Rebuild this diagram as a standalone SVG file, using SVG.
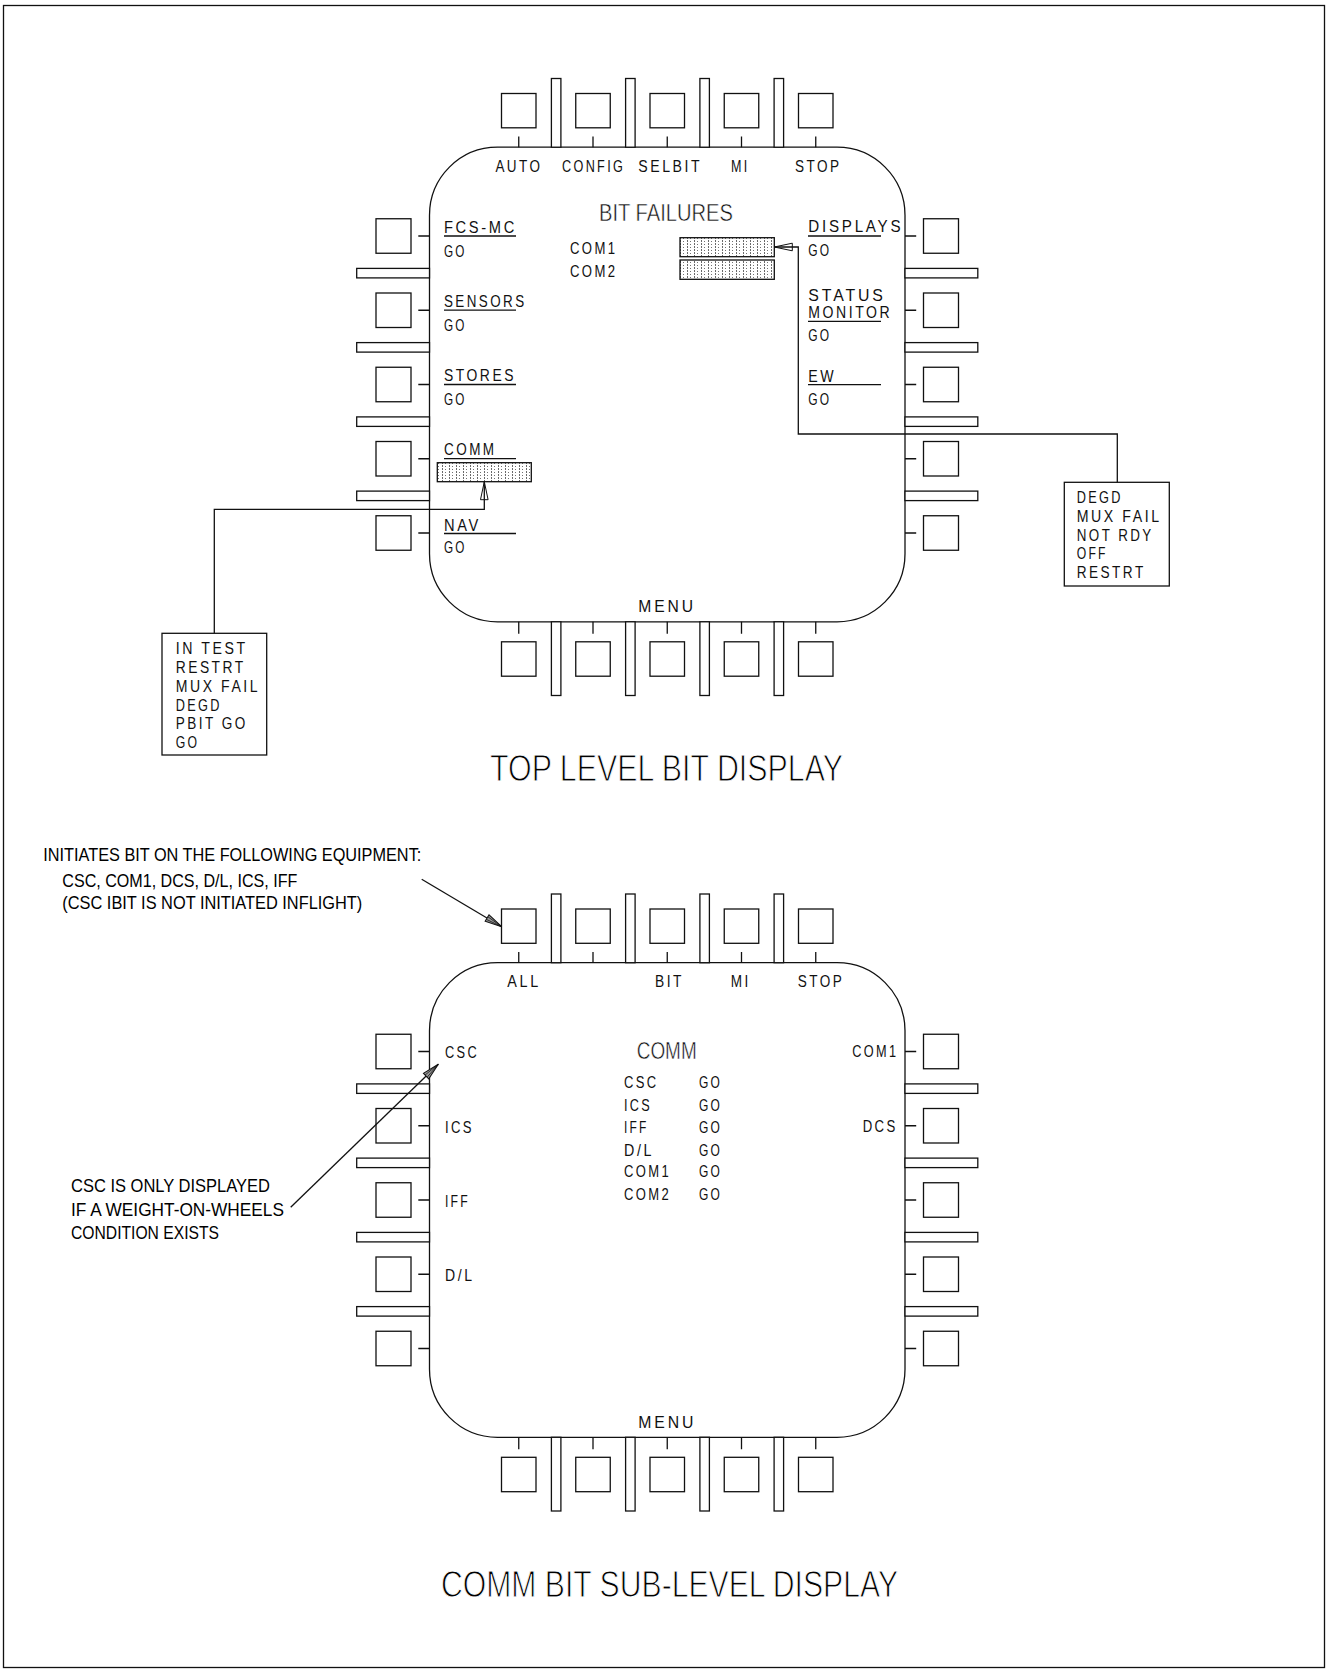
<svg xmlns="http://www.w3.org/2000/svg" xmlns:xlink="http://www.w3.org/1999/xlink" width="1329" height="1672" viewBox="0 0 1329 1672">
<style>
.s{fill:none;stroke:#111;stroke-width:1.3}
.w{fill:#fff;stroke:#111;stroke-width:1.3}
.lb{font-family:"Liberation Sans",Arial,sans-serif;font-size:16.5px;letter-spacing:3px;fill:#111}
.an{font-family:"Liberation Sans",Arial,sans-serif;font-size:18px;fill:#000}
.t1{font-family:"Liberation Sans",Arial,sans-serif;font-size:24px;fill:#111;stroke:#fff;stroke-width:0.5}
.t2{font-family:"Liberation Sans",Arial,sans-serif;font-size:36px;fill:#000;stroke:#fff;stroke-width:1}
.sh{fill:url(#dots);stroke:#111;stroke-width:1.3}
</style>
<defs>
<pattern id="dots" patternUnits="userSpaceOnUse" width="7" height="6">
<rect width="7" height="6" fill="#fff"/>
<path d="M1.5 0v2M1.5 3v2" stroke="#444" stroke-width="0.8"/>
<circle cx="4.5" cy="1.5" r="0.5" fill="#444"/>
<circle cx="4.5" cy="4.5" r="0.5" fill="#444"/>
</pattern>
<marker id="ah" markerUnits="userSpaceOnUse" markerWidth="22" markerHeight="12" viewBox="-20 -6 22 12" refX="0" refY="0" orient="auto">
<path d="M0 0L-18 -3.8L-18 3.8Z" fill="none" stroke="#111" stroke-width="1"/>
</marker>
<marker id="ah2" markerUnits="userSpaceOnUse" markerWidth="22" markerHeight="12" viewBox="-20 -6 22 12" refX="0" refY="0" orient="auto">
<path d="M0 0L-17 -3.8L-17 3.8Z" fill="#999" stroke="#111" stroke-width="1"/>
<path d="M0 0L-17 -1.5M0 0L-17 1.5" stroke="#111" stroke-width="0.7"/>
</marker>
<g id="bezel">
<rect class="s" x="429.5" y="-237.3" width="475.5" height="474.6" rx="68" ry="68"/>
<g class="w">
<rect x="501.5" y="-291" width="34.5" height="34.3"/>
<rect x="575.75" y="-291" width="34.5" height="34.3"/>
<rect x="650" y="-291" width="34.5" height="34.3"/>
<rect x="724.25" y="-291" width="34.5" height="34.3"/>
<rect x="798.5" y="-291" width="34.5" height="34.3"/>
<rect x="551.4" y="-306" width="9.5" height="68.7"/>
<rect x="625.6" y="-306" width="9.5" height="68.7"/>
<rect x="699.9" y="-306" width="9.5" height="68.7"/>
<rect x="774.1" y="-306" width="9.5" height="68.7"/>
<rect x="501.5" y="257.3" width="34.5" height="34.4"/>
<rect x="575.75" y="257.3" width="34.5" height="34.4"/>
<rect x="650" y="257.3" width="34.5" height="34.4"/>
<rect x="724.25" y="257.3" width="34.5" height="34.4"/>
<rect x="798.5" y="257.3" width="34.5" height="34.4"/>
<rect x="551.4" y="237.3" width="9.5" height="73.7"/>
<rect x="625.6" y="237.3" width="9.5" height="73.7"/>
<rect x="699.9" y="237.3" width="9.5" height="73.7"/>
<rect x="774.1" y="237.3" width="9.5" height="73.7"/>
<rect x="376" y="-165.75" width="35" height="34.5"/>
<rect x="376" y="-91.5" width="35" height="34.5"/>
<rect x="376" y="-17.25" width="35" height="34.5"/>
<rect x="376" y="57" width="35" height="34.5"/>
<rect x="376" y="131.25" width="35" height="34.5"/>
<rect x="356.7" y="-116.1" width="72.8" height="9.5"/>
<rect x="356.7" y="-41.9" width="72.8" height="9.5"/>
<rect x="356.7" y="32.4" width="72.8" height="9.5"/>
<rect x="356.7" y="106.6" width="72.8" height="9.5"/>
<rect x="923.5" y="-165.75" width="35" height="34.5"/>
<rect x="923.5" y="-91.5" width="35" height="34.5"/>
<rect x="923.5" y="-17.25" width="35" height="34.5"/>
<rect x="923.5" y="57" width="35" height="34.5"/>
<rect x="923.5" y="131.25" width="35" height="34.5"/>
<rect x="905" y="-116.1" width="72.8" height="9.5"/>
<rect x="905" y="-41.9" width="72.8" height="9.5"/>
<rect x="905" y="32.4" width="72.8" height="9.5"/>
<rect x="905" y="106.6" width="72.8" height="9.5"/>
</g>
<path class="s" d="M518.75 -248V-237.3M593 -248V-237.3M667.25 -248V-237.3M741.5 -248V-237.3M815.75 -248V-237.3M518.75 237.3V249.3M593 237.3V249.3M667.25 237.3V249.3M741.5 237.3V249.3M815.75 237.3V249.3M418.3 -148.5H429.5M418.3 -74.25H429.5M418.3 0H429.5M418.3 74.25H429.5M418.3 148.5H429.5M905 -148.5H916.2M905 -74.25H916.2M905 0H916.2M905 74.25H916.2M905 148.5H916.2"/>
</g>
</defs>

<rect id="frame" class="s" x="3.5" y="5.5" width="1321" height="1662"/>

<g id="top-display">
<use xlink:href="#bezel" href="#bezel" transform="translate(0 384.5)"/>
<g id="top-labels">
<text class="lb" x="495.4" y="172.3" textLength="47" lengthAdjust="spacingAndGlyphs">AUTO</text>
<text class="lb" x="562.1" y="172.3" textLength="63" lengthAdjust="spacingAndGlyphs">CONFIG</text>
<text class="lb" x="638.2" y="172.3" textLength="64" lengthAdjust="spacingAndGlyphs">SELBIT</text>
<text class="lb" x="731.1" y="172.3" textLength="18.5" lengthAdjust="spacingAndGlyphs">MI</text>
<text class="lb" x="795" y="172.3" textLength="46.5" lengthAdjust="spacingAndGlyphs">STOP</text>
<text class="t1" x="599" y="220.7" textLength="134" lengthAdjust="spacingAndGlyphs">BIT FAILURES</text>
<text class="lb" x="570" y="254" textLength="47.5" lengthAdjust="spacingAndGlyphs">COM1</text>
<text class="lb" x="570" y="276.7" textLength="47.5" lengthAdjust="spacingAndGlyphs">COM2</text>
<text class="lb" x="444" y="232.7" textLength="73" lengthAdjust="spacingAndGlyphs">FCS-MC</text>
<text class="lb" x="444" y="256.7" textLength="22.5" lengthAdjust="spacingAndGlyphs">GO</text>
<text class="lb" x="444" y="306.7" textLength="82.5" lengthAdjust="spacingAndGlyphs">SENSORS</text>
<text class="lb" x="444" y="330.7" textLength="22.5" lengthAdjust="spacingAndGlyphs">GO</text>
<text class="lb" x="444" y="381" textLength="72" lengthAdjust="spacingAndGlyphs">STORES</text>
<text class="lb" x="444" y="405" textLength="22.5" lengthAdjust="spacingAndGlyphs">GO</text>
<text class="lb" x="444" y="455" textLength="52.5" lengthAdjust="spacingAndGlyphs">COMM</text>
<text class="lb" x="444" y="530.5" textLength="37" lengthAdjust="spacingAndGlyphs">NAV</text>
<text class="lb" x="444" y="553.3" textLength="22.5" lengthAdjust="spacingAndGlyphs">GO</text>
<text class="lb" x="808.3" y="232.3" textLength="95" lengthAdjust="spacingAndGlyphs">DISPLAYS</text>
<text class="lb" x="808.3" y="256" textLength="23" lengthAdjust="spacingAndGlyphs">GO</text>
<text class="lb" x="808.3" y="301" textLength="77.5" lengthAdjust="spacingAndGlyphs">STATUS</text>
<text class="lb" x="808.3" y="317.7" textLength="84" lengthAdjust="spacingAndGlyphs">MONITOR</text>
<text class="lb" x="808.3" y="341" textLength="23" lengthAdjust="spacingAndGlyphs">GO</text>
<text class="lb" x="808.3" y="381.7" textLength="28" lengthAdjust="spacingAndGlyphs">EW</text>
<text class="lb" x="808.3" y="405" textLength="23" lengthAdjust="spacingAndGlyphs">GO</text>
<text class="lb" x="638.3" y="612.3" textLength="57.5" lengthAdjust="spacingAndGlyphs">MENU</text>
<path class="s" d="M444 236H516M444 310.2H516M444 384.5H516M444 458.7H516M444 533.5H516M808 236H881M808 321.3H881M808 384.7H881"/>
</g>
<g id="fail-bars">
<rect class="sh" x="437.3" y="462.7" width="94" height="19"/>
<rect class="sh" x="680" y="237.7" width="94.3" height="19"/>
<rect class="sh" x="680" y="260" width="94.3" height="19.3"/>
</g>
<g id="comm-status-box">
<rect class="s" x="162" y="633.3" width="104.7" height="121.7"/>
<text class="lb" x="175.7" y="654.3" textLength="72" lengthAdjust="spacingAndGlyphs">IN TEST</text>
<text class="lb" x="175.7" y="673.3" textLength="70" lengthAdjust="spacingAndGlyphs">RESTRT</text>
<text class="lb" x="175.7" y="692" textLength="84.5" lengthAdjust="spacingAndGlyphs">MUX FAIL</text>
<text class="lb" x="175.7" y="711" textLength="46" lengthAdjust="spacingAndGlyphs">DEGD</text>
<text class="lb" x="175.7" y="729.3" textLength="72" lengthAdjust="spacingAndGlyphs">PBIT GO</text>
<text class="lb" x="175.7" y="748.3" textLength="23.5" lengthAdjust="spacingAndGlyphs">GO</text>
</g>
<g id="com-status-box">
<rect class="s" x="1064.3" y="482.3" width="105" height="103.7"/>
<text class="lb" x="1076.7" y="503.3" textLength="46" lengthAdjust="spacingAndGlyphs">DEGD</text>
<text class="lb" x="1076.7" y="521.7" textLength="85" lengthAdjust="spacingAndGlyphs">MUX FAIL</text>
<text class="lb" x="1076.7" y="540.7" textLength="77" lengthAdjust="spacingAndGlyphs">NOT RDY</text>
<text class="lb" x="1076.7" y="559" textLength="31" lengthAdjust="spacingAndGlyphs">OFF</text>
<text class="lb" x="1076.7" y="578.3" textLength="69" lengthAdjust="spacingAndGlyphs">RESTRT</text>
</g>
<text id="title-top" class="t2" x="490" y="781" textLength="353" lengthAdjust="spacingAndGlyphs">TOP LEVEL BIT DISPLAY</text>
</g>

<g id="comm-display">
<use xlink:href="#bezel" href="#bezel" transform="translate(0 1200)"/>
<g id="comm-labels">
<text class="lb" x="507.3" y="987.3" textLength="33.5" lengthAdjust="spacingAndGlyphs">ALL</text>
<text class="lb" x="655" y="987.3" textLength="29" lengthAdjust="spacingAndGlyphs">BIT</text>
<text class="lb" x="730.7" y="987.3" textLength="20" lengthAdjust="spacingAndGlyphs">MI</text>
<text class="lb" x="797.7" y="987.3" textLength="46.5" lengthAdjust="spacingAndGlyphs">STOP</text>
<text class="lb" x="445" y="1058.3" textLength="34" lengthAdjust="spacingAndGlyphs">CSC</text>
<text class="lb" x="445" y="1132.7" textLength="29" lengthAdjust="spacingAndGlyphs">ICS</text>
<text class="lb" x="445" y="1206.7" textLength="25" lengthAdjust="spacingAndGlyphs">IFF</text>
<text class="lb" x="445" y="1281" textLength="29.5" lengthAdjust="spacingAndGlyphs">D/L</text>
<text class="lb" x="852.3" y="1057.3" textLength="46" lengthAdjust="spacingAndGlyphs">COM1</text>
<text class="lb" x="862.7" y="1131.7" textLength="35" lengthAdjust="spacingAndGlyphs">DCS</text>
<text class="t1" x="636.7" y="1059" textLength="60" lengthAdjust="spacingAndGlyphs">COMM</text>
<text class="lb" x="624" y="1088.3" textLength="34.5" lengthAdjust="spacingAndGlyphs">CSC</text>
<text class="lb" x="624" y="1111" textLength="28" lengthAdjust="spacingAndGlyphs">ICS</text>
<text class="lb" x="624" y="1132.7" textLength="24.5" lengthAdjust="spacingAndGlyphs">IFF</text>
<text class="lb" x="624" y="1155.7" textLength="30" lengthAdjust="spacingAndGlyphs">D/L</text>
<text class="lb" x="624" y="1177.3" textLength="47" lengthAdjust="spacingAndGlyphs">COM1</text>
<text class="lb" x="624" y="1200" textLength="47" lengthAdjust="spacingAndGlyphs">COM2</text>
<text class="lb" x="699" y="1088.3" textLength="23" lengthAdjust="spacingAndGlyphs">GO</text>
<text class="lb" x="699" y="1111" textLength="23" lengthAdjust="spacingAndGlyphs">GO</text>
<text class="lb" x="699" y="1132.7" textLength="23" lengthAdjust="spacingAndGlyphs">GO</text>
<text class="lb" x="699" y="1155.7" textLength="23" lengthAdjust="spacingAndGlyphs">GO</text>
<text class="lb" x="699" y="1177.3" textLength="23" lengthAdjust="spacingAndGlyphs">GO</text>
<text class="lb" x="699" y="1200" textLength="23" lengthAdjust="spacingAndGlyphs">GO</text>
<text class="lb" x="638.3" y="1428.3" textLength="58" lengthAdjust="spacingAndGlyphs">MENU</text>
</g>
<g id="note-all">
<text class="an" x="43.3" y="860.7" textLength="378" lengthAdjust="spacingAndGlyphs">INITIATES BIT ON THE FOLLOWING EQUIPMENT:</text>
<text class="an" x="62.3" y="887.3" textLength="235" lengthAdjust="spacingAndGlyphs">CSC, COM1, DCS, D/L, ICS, IFF</text>
<text class="an" x="62.3" y="909.3" textLength="300" lengthAdjust="spacingAndGlyphs">(CSC IBIT IS NOT INITIATED INFLIGHT)</text>
</g>
<g id="note-csc">
<text class="an" x="71" y="1192.3" textLength="199" lengthAdjust="spacingAndGlyphs">CSC IS ONLY DISPLAYED</text>
<text class="an" x="71" y="1215.7" textLength="213" lengthAdjust="spacingAndGlyphs">IF A WEIGHT-ON-WHEELS</text>
<text class="an" x="71" y="1239" textLength="148" lengthAdjust="spacingAndGlyphs">CONDITION EXISTS</text>
</g>
<text id="title-comm" class="t2" x="441" y="1596.7" textLength="457" lengthAdjust="spacingAndGlyphs">COMM BIT SUB-LEVEL DISPLAY</text>
</g>

<g id="connectors">
<path class="s" d="M214.3 633.3V509.3H484.3V481.7" marker-end="url(#ah)"/>
<path class="s" d="M1117.3 482.3V434H798.3V247H774.3" marker-end="url(#ah)"/>
<path class="s" d="M421.7 879.3L501.7 926.7" marker-end="url(#ah2)"/>
<path class="s" d="M290.7 1207.3L438.3 1064.3" marker-end="url(#ah2)"/>
</g>
</svg>
